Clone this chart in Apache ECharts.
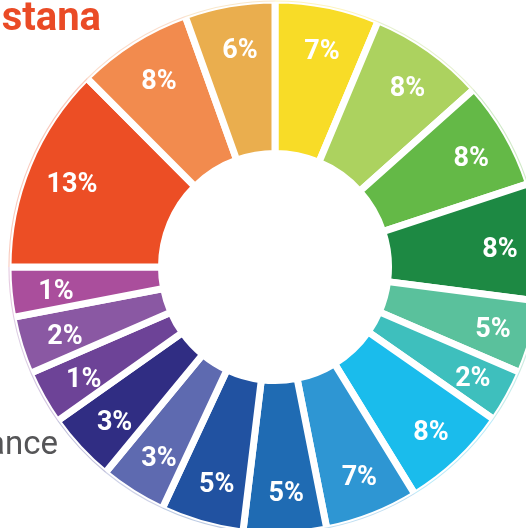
<!DOCTYPE html>
<html>
<head>
<meta charset="utf-8">
<script src="https://cdn.jsdelivr.net/npm/echarts@6/dist/echarts.min.js"></script>
<style>
html,body{margin:0;padding:0;background:#fff;}
#chart{width:526px;height:528px;}
</style>
</head>
<body>
<div id="chart"></div>
<script>
const arcShare = [6.32, 7.07, 6.56, 7.11, 4.42, 3.22, 6.53, 5.67, 5.03, 5.03, 4.03, 4.22, 3.28, 3.50, 3.03, 12.53, 7.00, 5.47];
// Percentages printed on the slices
const pctLabels = ['7%', '8%', '8%', '8%', '5%', '2%', '8%', '7%', '5%', '5%', '3%', '3%', '1%', '2%', '1%', '13%', '8%', '6%'];
const sliceColors = ['#F8DC27', '#ACD25F', '#64B947', '#1D8943', '#5AC19C', '#3EBFBD', '#1ABCEC', '#2E96D3', '#1F6BB3', '#2152A1', '#5E6AB0', '#302D83', '#6D4397', '#8A58A3', '#AA4E9C', '#EC4E25', '#F28B4E', '#EAAE4E'];
const titleFragment = 'stana';
const sideFragment = 'ance';

const data = arcShare.map((v, i) => ({ value: v, name: pctLabels[i], itemStyle: { color: sliceColors[i] } }));
const center = [275, 267];

const chart = echarts.init(document.getElementById('chart'), null, { renderer: 'canvas' });
chart.setOption({
  animation: false,
  backgroundColor: '#ffffff',
  graphic: [
    { type: 'text', x: 101, y: 20, style: { text: titleFragment, align: 'right', verticalAlign: 'middle', fontSize: 40, fontWeight: 'bold', fontFamily: 'Roboto', fill: '#EA4B26' } },
    { type: 'text', x: 58, y: 446, style: { text: sideFragment, align: 'right', verticalAlign: 'middle', fontSize: 33, fontWeight: 'normal', fontFamily: 'Roboto', fill: '#555557' } }
  ],
  series: [
    {
      type: 'pie', center: center, radius: [113.5, 267], startAngle: 90, clockwise: true,
      avoidLabelOverlap: false, silent: true,
      itemStyle: { borderColor: '#ffffff', borderWidth: 7 },
      label: { show: false }, labelLine: { show: false },
      data: data
    },
    {
      type: 'pie', center: center, radius: [265.5, 266.6], startAngle: 90, clockwise: true,
      silent: true, label: { show: false }, labelLine: { show: false },
      itemStyle: { opacity: 0.3 },
      data: data
    },
    {
      type: 'pie', center: center, radius: [196, 244], startAngle: 90, clockwise: true,
      silent: true, avoidLabelOverlap: false,
      itemStyle: { color: 'rgba(0,0,0,0)' },
      label: { show: true, position: 'inside', formatter: '{b}', color: '#ffffff', fontFamily: 'Roboto', fontWeight: 'bold', fontSize: 27 },
      labelLayout: { dx: 3, dy: 4 },
      labelLine: { show: false },
      data: arcShare.map((v, i) => ({ value: v, name: pctLabels[i] }))
    }
  ]
});
</script>
</body>
</html>
